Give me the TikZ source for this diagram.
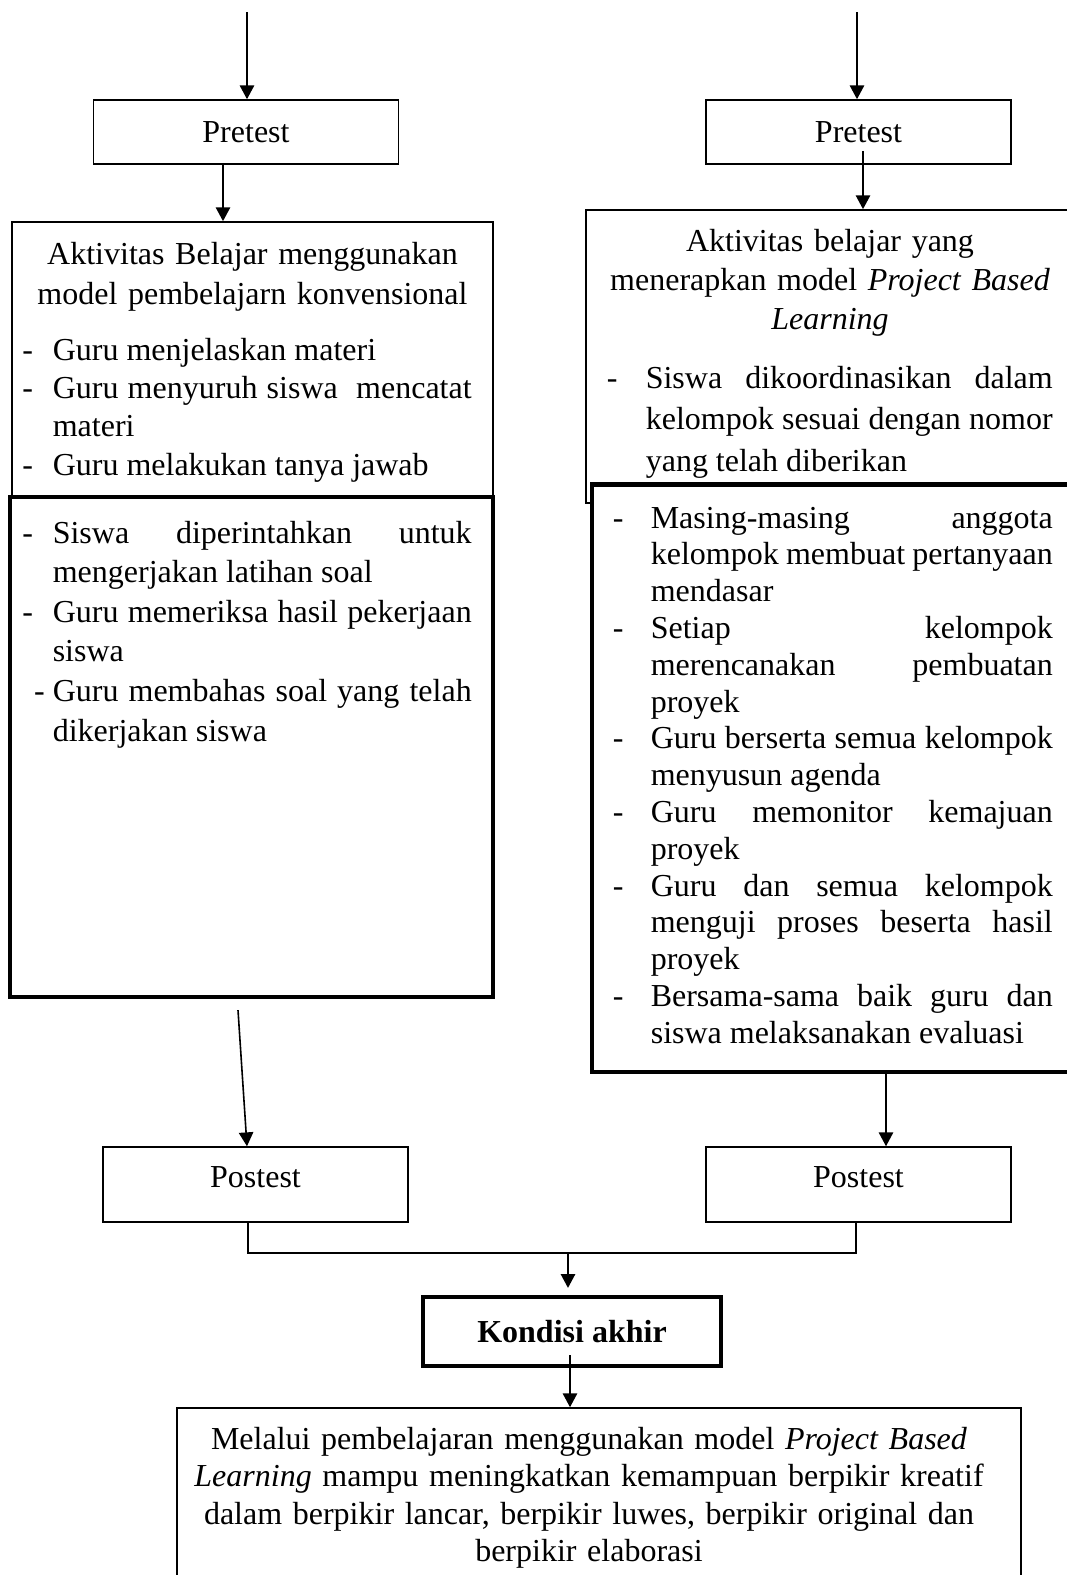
\documentclass[tikz,border=0pt,12pt]{standalone}
\usepackage{fontspec}
\setmainfont{Liberation Serif}
\usetikzlibrary{arrows.meta,calc}

\tolerance=10000
\hyphenpenalty=10000
\exhyphenpenalty=10000
\newlength{\butirgap}
\newcommand{\butir}[2][\butirgap]{\noindent\llap{\makebox[#1][l]{-}}#2\par}

\begin{document}
\begin{tikzpicture}[x=0.375pt,y=-0.375pt,line width=0.6pt,
  >={Triangle[length=5.2pt,width=5.4pt]},
  kotak/.style={draw,inner sep=0pt},
  tebal/.style={draw,line width=1.6pt,fill=white,inner sep=0pt},
  uji/.style={kotak,minimum width=114.4pt,minimum height=24pt},
  isi/.style={anchor=base west,align=justify,inner sep=0pt},
  judul/.style={anchor=base,align=center,inner sep=0pt}]
\useasboundingbox (0,0) rectangle (1067,1575);

% Pretest
\coordinate (in1) at (247,12);
\coordinate (in2) at (857,12);
\node[uji] (pre1) at (246,132) {Pretest};
\node[uji] (pre2) at (858.5,132) {Pretest};
\draw[->] (in1) -- (in1 |- pre1.north);
\draw[->] (in2) -- (in2 |- pre2.north);

% Kelas kontrol
\node[kotak,minimum width=180.4pt,minimum height=103.9pt] (act1) at (252.5,360.5) {};
\node[tebal,minimum width=181.1pt,minimum height=187.5pt] (act1b) at (251.5,747) {};
\node[judul,text width=175pt,font={\fontsize{12pt}{15pt}\selectfont}] (head1) at (252.5,264)
  {Aktivitas Belajar menggunakan\\ model pembelajarn konvensional};
\node[isi,text width=157.1pt,font={\fontsize{12pt}{14.4pt}\selectfont}] (list1) at (52,360)
  {\setlength{\butirgap}{11.4pt}%
   \butir{Guru menjelaskan materi}%
   \butir{Guru menyuruh siswa\ \ mencatat\linebreak materi}%
   \butir{Guru melakukan tanya jawab}};
\node[isi,text width=157.1pt,font={\fontsize{12pt}{14.85pt}\selectfont}] (list1b) at (52,543)
  {\setlength{\butirgap}{11.4pt}%
   \butir{Siswa diperintahkan untuk\linebreak mengerjakan latihan soal}%
   \butir{Guru memeriksa hasil pekerjaan\linebreak siswa}%
   \butir[7pt]{Guru membahas soal yang telah\linebreak dikerjakan siswa}};

% Kelas eksperimen
\node[kotak,minimum width=183.4pt,minimum height=109.9pt] (act2) at (830.5,356.5) {};
\node[tebal,minimum width=181.1pt,minimum height=220.3pt] (act2b) at (833.5,778.25) {};
\node[judul,text width=180pt,font={\fontsize{12pt}{14.8pt}\selectfont}] (head2) at (830,251)
  {Aktivitas belajar yang\\ menerapkan model \textit{Project Based}\\ \textit{Learning}};
\node[isi,text width=152.6pt,font={\fontsize{12pt}{15.6pt}\selectfont}] (list2) at (645,388)
  {\setlength{\butirgap}{14.6pt}%
   \butir{Siswa dikoordinasikan dalam\linebreak kelompok sesuai dengan nomor\linebreak yang telah diberikan}};
\node[isi,text width=150.75pt,font={\fontsize{12pt}{13.8pt}\selectfont}] (list2b) at (650,528)
  {\setlength{\butirgap}{14.25pt}%
   \butir{Masing-masing anggota\linebreak kelompok membuat pertanyaan\linebreak mendasar}%
   \butir{Setiap kelompok\linebreak merencanakan pembuatan\linebreak proyek}%
   \butir{Guru berserta semua kelompok\linebreak menyusun agenda}%
   \butir{Guru memonitor kemajuan\linebreak proyek}%
   \butir{Guru dan semua kelompok\linebreak menguji proses beserta hasil\linebreak proyek}%
   \butir{Bersama-sama baik guru dan\linebreak siswa melaksanakan evaluasi}};

\draw[->] ($(pre1.south)+(-23,-2)$) -- ($(act1.north)+(-29.5,0)$);
\draw[->] ($(pre2.south)+(4.5,-14)$) -- ($(act2.north)+(32.5,0)$);

% Postest
\node[kotak,minimum width=114.4pt,minimum height=28.1pt,text depth=5.25pt] (post1) at (255.5,1184.5) {Postest};
\node[kotak,minimum width=114.4pt,minimum height=28.1pt,text depth=5.25pt] (post2) at (858.5,1184.5) {Postest};
\draw[->] ($(act1b.south)+(-13.5,11)$) -- ($(post1.north)+(-8.5,0)$);
\draw[->] ($(act2b.south)+(52.5,0)$) -- ($(post2.north)+(27.5,0)$);

% Kondisi akhir
\coordinate (temu) at (568,1253);
\node[tebal,minimum width=111.75pt,minimum height=25.9pt,font=\bfseries] (akhir) at (572,1331.5) {Kondisi akhir};
\node[kotak,minimum width=316.5pt,minimum height=79.5pt] (hasil) at (599,1514) {};
\node[judul,text width=310pt,font={\fontsize{12pt}{14.1pt}\selectfont}] (simpulan) at (589,1449)
  {Melalui pembelajaran menggunakan model \textit{Project Based}\\
   \textit{Learning} mampu meningkatkan kemampuan berpikir kreatif\\
   dalam berpikir lancar, berpikir luwes, berpikir original dan\\
   berpikir elaborasi};
\draw ($(post1.south)+(-7.5,0)$) |- (temu) -| ($(post2.south)+(-2.5,0)$);
\draw[->,shorten >=2.6pt] (temu) -- (temu |- akhir.north);
\draw[->] ($(akhir.south)+(-2,-13)$) -- ($(hasil.north)+(-29,0)$);
\end{tikzpicture}
\end{document}
